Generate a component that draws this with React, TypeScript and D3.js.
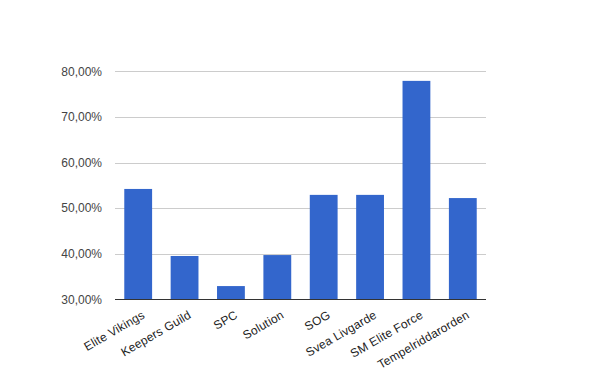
import React from "react";
import * as d3 from "d3";

const categories = ["Elite Vikings", "Keepers Guild", "SPC", "Solution", "SOG", "Svea Livgarde", "SM Elite Force", "Tempelriddarorden"];
const values = [54.2, 39.5, 32.9, 39.7, 52.9, 52.9, 77.9, 52.2];
const yTicks = [30, 40, 50, 60, 70, 80];

const W = 600, H = 371;
const left = 115, right = 486, top = 71.3, bottom = 299.3;

export default function App() {
  const x = d3.scaleBand<string>().domain(categories).range([left, right]).paddingInner(0.4).paddingOuter(0.2);
  const y = d3.scaleLinear().domain([30, 80]).range([bottom, top]);
  const fmt = (v: number) => v.toFixed(2).replace(".", ",") + "%";
  return (
    <svg width={W} height={H} style={{ position: "absolute", left: 0, top: 0, fontFamily: "'Liberation Sans', Arial, sans-serif" }}>
      <rect width={W} height={H} fill="#fff" />
      {yTicks.map((t) => (
        <g key={t}>
          {t !== 30 && <line x1={left} x2={right} y1={Math.round(y(t)) + 0.5} y2={Math.round(y(t)) + 0.5} stroke="#cccccc" />}
          <text x={102} y={y(t)} dy="0.35em" textAnchor="end" fontSize={12} fill="#444">{fmt(t)}</text>
        </g>
      ))}
      {categories.map((c, i) => (
        <rect key={c} x={x(c)} y={y(values[i])} width={x.bandwidth()} height={y(30) - y(values[i])} fill="#3366cc" />
      ))}
      <line x1={left} x2={right} y1={Math.round(bottom) + 0.5} y2={Math.round(bottom) + 0.5} stroke="#333" />
      {categories.map((c) => {
        const cx = (x(c) as number) + x.bandwidth() / 2 + 7.5;
        const cy = bottom + 18;
        return (
          <text key={c} transform={`translate(${cx},${cy}) rotate(-30)`} textAnchor="end" fontSize={12} letterSpacing={0.2} fill="#222">{c}</text>
        );
      })}
    </svg>
  );
}
